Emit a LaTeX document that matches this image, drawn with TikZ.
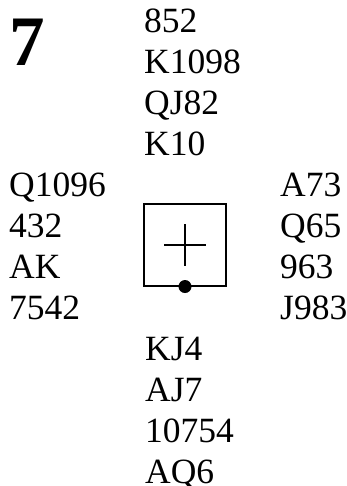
\documentclass[tikz,border=0pt]{standalone}
\usepackage{fontspec}
\setmainfont{Liberation Serif}
\begin{document}
\begin{tikzpicture}[x=1pt,y=1pt,
    card/.style={anchor=base west,inner sep=0pt,font=\fontsize{35.5}{41}\selectfont},
    boardno/.style={anchor=base west,inner sep=0pt,font=\bfseries\fontsize{71}{80}\selectfont},
    table/.style={draw,line width=1.1pt,minimum size=82pt,inner sep=0pt}]
    \useasboundingbox (0,0) rectangle (347,486);

    \node[boardno] (board) at (9,420) {7};

    \foreach \h [count=\i] in {852,K1098,QJ82,K10} {
        \node[card] (north\i) at (144,{494-41*\i}) {\h};
    }
    \foreach \h [count=\i] in {Q1096,432,AK,7542} {
        \node[card] (west\i) at (9,{330-41*\i}) {\h};
    }
    \foreach \h [count=\i] in {A73,Q65,963,J983} {
        \node[card] (east\i) at (280,{330-41*\i}) {\h};
    }
    \foreach \h [count=\i] in {KJ4,AJ7,10754,AQ6} {
        \node[card] (south\i) at (145,{166-41*\i}) {\h};
    }

    \node[table] (tbl) at (185,241) {};
    \draw[line width=1.1pt] (tbl.center) ++(-21,0) -- ++(42,0);
    \draw[line width=1.1pt] (tbl.center) ++(0,-21) -- ++(0,42);
    \fill (tbl.south) circle (6.5);
\end{tikzpicture}
\end{document}
